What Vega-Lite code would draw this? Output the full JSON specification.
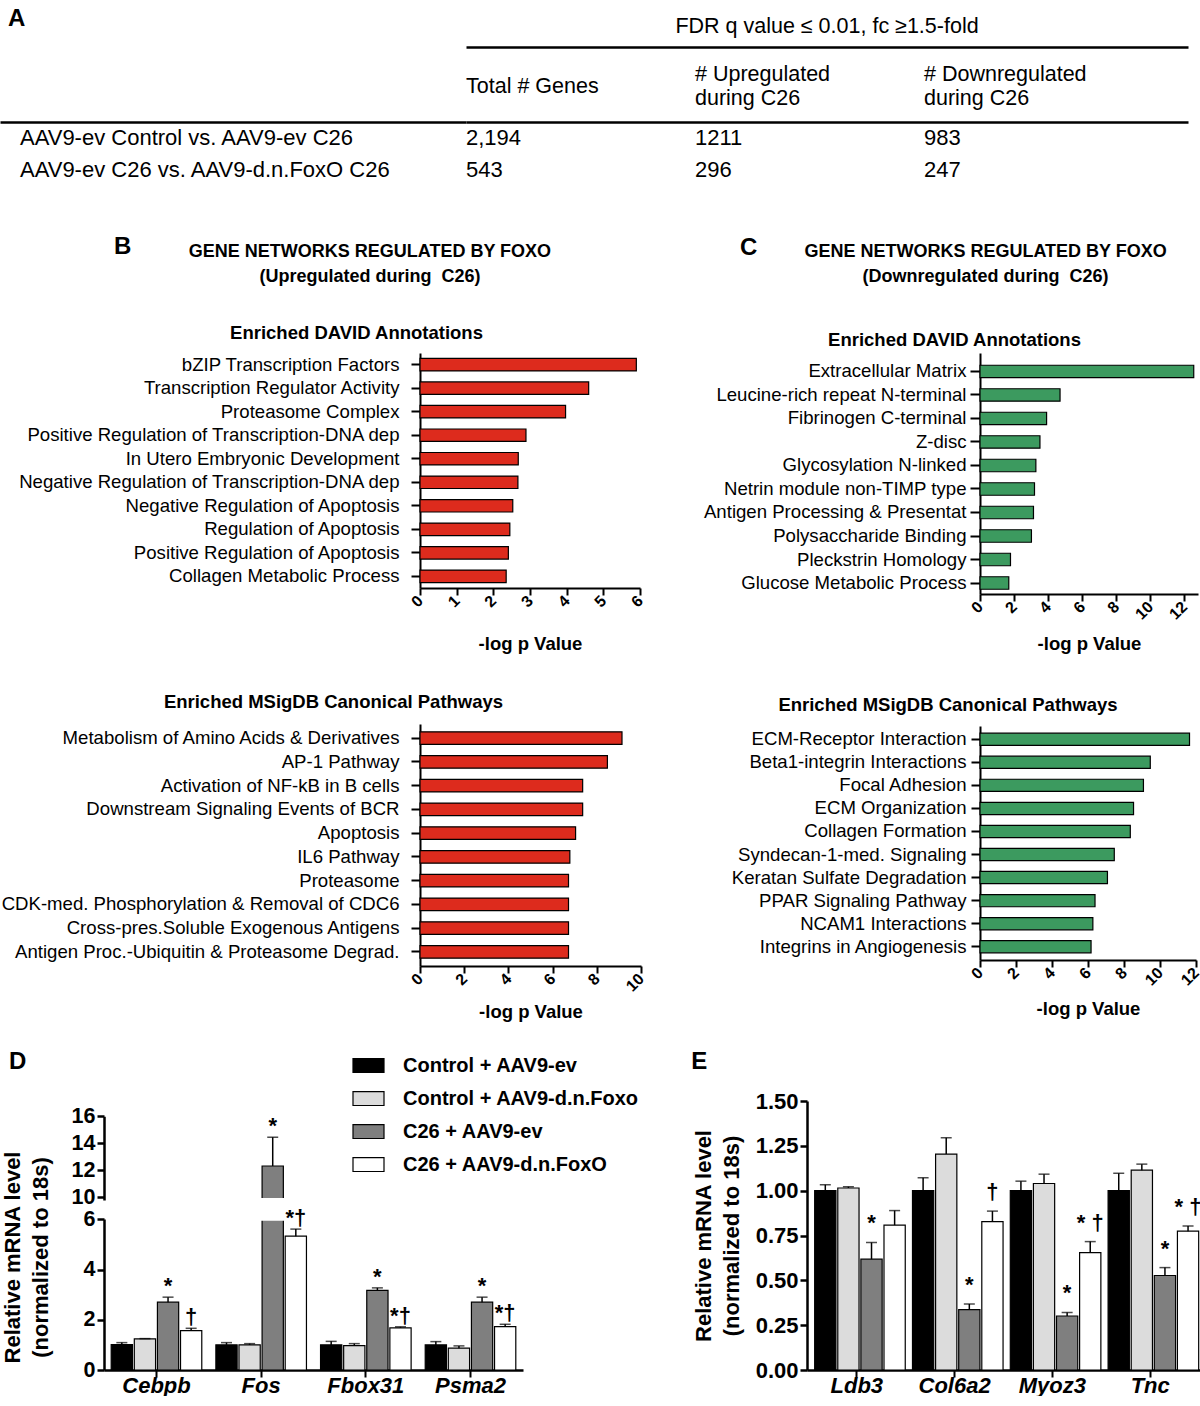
{
"$schema": "https://vega.github.io/schema/vega-lite/v6.json",
"background": "white",
"padding": {"left": 0, "top": 7, "right": 0, "bottom": 0},
"config": {
  "font": "Liberation Sans",
  "view": {"stroke": null},
  "axis": {"domainColor": "#000", "tickColor": "#000", "labelColor": "#000", "titleColor": "#000", "grid": false, "labelFont": "Liberation Sans", "titleFont": "Liberation Sans"},
  "title": {"color": "#000", "font": "Liberation Sans", "subtitleFont": "Liberation Sans"},
  "legend": {"labelColor": "#000", "labelFont": "Liberation Sans"},
  "text": {"font": "Liberation Sans", "color": "#000"}
},
"datasets": {
  "table": [
    {"comparison": "AAV9-ev Control vs. AAV9-ev C26", "total": "2,194", "up": "1211", "down": "983"},
    {"comparison": "AAV9-ev C26 vs. AAV9-d.n.FoxO C26", "total": "543", "up": "296", "down": "247"}
  ],
  "blank": [{"a": 0}]
},
"spacing": 35,
"columns": 1,
"concat": [
  {
    "hconcat": [
      {
        "width": 466, "height": 78,
        "title": {"text": "A", "anchor": "start", "frame": "group", "dx": 8, "offset": 72, "baseline": "alphabetic", "fontSize": 24, "fontWeight": "bold"},
        "data": {"name": "table"},
        "mark": {"type": "text", "align": "left", "baseline": "alphabetic", "fontSize": 22, "dx": 20},
        "encoding": {
          "x": {"datum": 0, "type": "quantitative", "scale": {"domain": [0, 1], "nice": false}, "axis": {"orient": "top", "labels": false, "ticks": false, "tickSize": 0, "title": null, "domainWidth": 2.5}},
          "y": {"field": "comparison", "type": "nominal", "sort": null, "scale": {"type": "point", "padding": 0.72, "domain": ["AAV9-ev Control vs. AAV9-ev C26", "AAV9-ev C26 vs. AAV9-d.n.FoxO C26"]}, "axis": null},
          "text": {"field": "comparison"}
        }
      },
      {
        "width": 722, "height": 78,
        "title": {"text": "FDR q value ≤ 0.01, fc ≥1.5-fold", "anchor": "middle", "frame": "group", "offset": -7, "baseline": "alphabetic", "fontSize": 21.5, "fontWeight": "normal"},
        "data": {"name": "table"},
        "transform": [{"fold": ["total", "up", "down"], "as": ["col", "txt"]}],
        "encoding": {
          "y": {"field": "comparison", "type": "nominal", "sort": null, "scale": {"type": "point", "padding": 0.72, "domain": ["AAV9-ev Control vs. AAV9-ev C26", "AAV9-ev C26 vs. AAV9-d.n.FoxO C26"]}, "axis": null},
          "text": {"field": "txt"}
        },
        "layer": [
          {
            "transform": [{"filter": "datum.comparison == 'AAV9-ev Control vs. AAV9-ev C26'"}],
            "mark": {"type": "text", "align": "left", "baseline": "alphabetic", "fontSize": 22},
            "encoding": {
              "x": {"field": "col", "type": "nominal", "bandPosition": 0, "scale": {"type": "band", "domain": ["total", "up", "down"], "paddingInner": 0, "paddingOuter": 0.0764, "align": 0},
                "axis": {"orient": "top", "title": null, "ticks": false, "tickSize": 0, "labelOffset": -114.5, "labelAlign": "left", "labelBaseline": "middle",
                  "labelPadding": {"condition": {"test": "datum.value == 'total'", "value": 36}, "value": 48},
                  "labelFontSize": 21.5, "labelLineHeight": 24, "labelAngle": 0, "labelOverlap": false, "labelLimit": 400, "domainWidth": 2.5,
                  "labelExpr": "datum.value == 'total' ? 'Total # Genes' : datum.value == 'up' ? ['# Upregulated', 'during C26'] : ['# Downregulated', 'during C26']"}}
            }
          },
          {
            "transform": [{"filter": "datum.comparison != 'AAV9-ev Control vs. AAV9-ev C26'"}],
            "mark": {"type": "text", "align": "left", "baseline": "alphabetic", "fontSize": 22},
            "encoding": {
              "x": {"field": "col", "type": "nominal", "bandPosition": 0, "scale": {"type": "band", "domain": ["total", "up", "down"], "paddingInner": 0, "paddingOuter": 0.0764, "align": 0},
                "axis": {"orient": "top", "offset": 75, "title": null, "labels": false, "ticks": false, "tickSize": 0, "domainWidth": 2.5}}
            }
          }
        ],
        "resolve": {"scale": {"x": "independent"}, "axis": {"x": "independent"}}
      }
    ],
    "spacing": 0,
    "bounds": "flush"
  },
  {
    "spacing": 28,
    "columns": 1,
    "concat": [
      {
        "spacing": 0,
        "hconcat": [
          {"width": 1, "height": 1, "data": {"name": "blank"}, "mark": {"type": "point", "opacity": 0, "size": 0}},
          {
            "spacing": 56,
            "hconcat": [
              {
                "title": {"text": ["GENE NETWORKS REGULATED BY FOXO", "(Upregulated during\u00a0\u00a0C26)"], "anchor": "middle", "frame": "bounds", "dx": 46, "dy": 65, "offset": 0, "baseline": "alphabetic", "lineHeight": 25, "fontSize": 18, "fontWeight": "bold"},
                "spacing": 38,
                "vconcat": [
                  {
                    "width": 220, "height": 235,
                    "title": {"text": "B", "anchor": "start", "frame": "group", "dx": -306, "offset": 45, "baseline": "alphabetic", "fontSize": 24, "fontWeight": "bold"},
                    "data": {"values": [
                      {"term": "bZIP Transcription Factors", "v": 5.90},
                      {"term": "Transcription Regulator Activity", "v": 4.60},
                      {"term": "Proteasome Complex", "v": 3.97},
                      {"term": "Positive Regulation of Transcription-DNA dep", "v": 2.89},
                      {"term": "In Utero Embryonic Development", "v": 2.68},
                      {"term": "Negative Regulation of Transcription-DNA dep", "v": 2.67},
                      {"term": "Negative Regulation of Apoptosis", "v": 2.53},
                      {"term": "Regulation of Apoptosis", "v": 2.45},
                      {"term": "Positive Regulation of Apoptosis", "v": 2.41},
                      {"term": "Collagen Metabolic Process", "v": 2.35}
                    ]},
                    "mark": {"type": "bar", "fill": "#dd2b1d", "stroke": "#000", "strokeWidth": 1.2},
                    "encoding": {
                      "y": {"field": "term", "type": "nominal", "sort": null, "scale": {"paddingInner": 0.47, "paddingOuter": 0.23},
                        "axis": {"title": "Enriched DAVID Annotations", "titleX": -64, "titleY": -15, "titleAngle": 0, "titleAlign": "center", "titleBaseline": "alphabetic", "titleFontSize": 18.5, "titleFontWeight": "bold", "labelFontSize": 18.6, "labelPadding": 12, "tickSize": 9, "tickWidth": 2, "domainWidth": 2, "labelLimit": 600}},
                      "x": {"field": "v", "type": "quantitative", "scale": {"domain": [0, 6], "nice": false},
                        "axis": {"title": "-log p Value", "values": [0, 1, 2, 3, 4, 5, 6], "titlePadding": 25, "titleFontSize": 18.5, "titleFontWeight": "bold", "labelAngle": -45, "labelAlign": "right", "labelBaseline": "middle", "labelFontSize": 16, "labelFontWeight": "bold", "labelPadding": 3, "tickSize": 7, "tickWidth": 2, "domainWidth": 2, "labelFlush": false, "labelOverlap": false}}
                    }
                  },
                  {
                    "width": 221, "height": 242,
                    "title": {"text": "Enriched MSigDB Canonical Pathways", "anchor": "middle", "frame": "group", "dx": -197, "offset": -2, "baseline": "alphabetic", "fontSize": 18.5, "fontWeight": "bold"},
                    "data": {"values": [
                      {"term": "Metabolism of Amino Acids & Derivatives", "v": 9.14},
                      {"term": "AP-1 Pathway", "v": 8.48},
                      {"term": "Activation of NF-kB in B cells", "v": 7.36},
                      {"term": "Downstream Signaling Events of BCR", "v": 7.36},
                      {"term": "Apoptosis", "v": 7.04},
                      {"term": "IL6 Pathway", "v": 6.78},
                      {"term": "Proteasome", "v": 6.72},
                      {"term": "CDK-med. Phosphorylation & Removal of CDC6", "v": 6.72},
                      {"term": "Cross-pres.Soluble Exogenous Antigens", "v": 6.72},
                      {"term": "Antigen Proc.-Ubiquitin & Proteasome Degrad.", "v": 6.72}
                    ]},
                    "mark": {"type": "bar", "fill": "#dd2b1d", "stroke": "#000", "strokeWidth": 1.2},
                    "encoding": {
                      "y": {"field": "term", "type": "nominal", "sort": null, "scale": {"paddingInner": 0.47, "paddingOuter": 0.33},
                        "axis": {"title": null, "labelFontSize": 18.6, "labelPadding": 12, "tickSize": 9, "tickWidth": 2, "domainWidth": 2, "labelLimit": 600}},
                      "x": {"field": "v", "type": "quantitative", "scale": {"domain": [0, 10], "nice": false},
                        "axis": {"title": "-log p Value", "values": [0, 2, 4, 6, 8, 10], "titlePadding": 8, "titleFontSize": 18.5, "titleFontWeight": "bold", "labelAngle": -45, "labelAlign": "right", "labelBaseline": "middle", "labelFontSize": 16, "labelFontWeight": "bold", "labelPadding": 3, "tickSize": 7, "tickWidth": 2, "domainWidth": 2, "labelFlush": false, "labelOverlap": false}}
                    }
                  }
                ]
              },
              {
                "title": {"text": ["GENE NETWORKS REGULATED BY FOXO", "(Downregulated during\u00a0\u00a0C26)"], "anchor": "middle", "frame": "bounds", "dx": 33, "dy": 64, "offset": 0, "baseline": "alphabetic", "lineHeight": 25, "fontSize": 18, "fontWeight": "bold"},
                "spacing": 42,
                "vconcat": [
                  {
                    "width": 218, "height": 241,
                    "title": {"text": "C", "anchor": "start", "frame": "group", "dx": -240, "offset": 52, "baseline": "alphabetic", "fontSize": 24, "fontWeight": "bold"},
                    "data": {"values": [
                      {"term": "Extracellular Matrix", "v": 12.55},
                      {"term": "Leucine-rich repeat N-terminal", "v": 4.70},
                      {"term": "Fibrinogen C-terminal", "v": 3.91},
                      {"term": "Z-disc", "v": 3.52},
                      {"term": "Glycosylation N-linked", "v": 3.28},
                      {"term": "Netrin module non-TIMP type", "v": 3.20},
                      {"term": "Antigen Processing & Presentat", "v": 3.14},
                      {"term": "Polysaccharide Binding", "v": 3.02},
                      {"term": "Pleckstrin Homology", "v": 1.79},
                      {"term": "Glucose Metabolic Process", "v": 1.69}
                    ]},
                    "mark": {"type": "bar", "fill": "#3c9a5f", "stroke": "#000", "strokeWidth": 1.2},
                    "encoding": {
                      "y": {"field": "term", "type": "nominal", "sort": null, "scale": {"paddingInner": 0.47, "paddingOuter": 0.3625, "align": 0.72},
                        "axis": {"title": "Enriched DAVID Annotations", "titleX": -26, "titleY": -7.5, "titleAngle": 0, "titleAlign": "center", "titleBaseline": "alphabetic", "titleFontSize": 18.5, "titleFontWeight": "bold", "labelFontSize": 18.6, "labelPadding": 4, "tickSize": 10, "tickWidth": 2, "domainWidth": 2, "labelLimit": 600}},
                      "x": {"field": "v", "type": "quantitative", "scale": {"domain": [0, 12.8], "nice": false},
                        "axis": {"title": "-log p Value", "values": [0, 2, 4, 6, 8, 10, 12], "titlePadding": 12, "titleFontSize": 18.5, "titleFontWeight": "bold", "labelAngle": -45, "labelAlign": "right", "labelBaseline": "middle", "labelFontSize": 16, "labelFontWeight": "bold", "labelPadding": 3, "tickSize": 7, "tickWidth": 2, "domainWidth": 2, "labelFlush": false, "labelOverlap": false}}
                    }
                  },
                  {
                    "width": 216, "height": 234,
                    "title": {"text": "Enriched MSigDB Canonical Pathways", "anchor": "middle", "frame": "group", "dx": -140, "offset": -3, "baseline": "alphabetic", "fontSize": 18.5, "fontWeight": "bold"},
                    "data": {"values": [
                      {"term": "ECM-Receptor Interaction", "v": 11.64},
                      {"term": "Beta1-integrin Interactions", "v": 9.46},
                      {"term": "Focal Adhesion", "v": 9.08},
                      {"term": "ECM Organization", "v": 8.53},
                      {"term": "Collagen Formation", "v": 8.35},
                      {"term": "Syndecan-1-med. Signaling ", "v": 7.46},
                      {"term": "Keratan Sulfate Degradation", "v": 7.08},
                      {"term": "PPAR Signaling Pathway", "v": 6.39},
                      {"term": "NCAM1 Interactions", "v": 6.27},
                      {"term": "Integrins in Angiogenesis", "v": 6.17}
                    ]},
                    "mark": {"type": "bar", "fill": "#3c9a5f", "stroke": "#000", "strokeWidth": 1.2},
                    "encoding": {
                      "y": {"field": "term", "type": "nominal", "sort": null, "scale": {"paddingInner": 0.47, "paddingOuter": 0.31},
                        "axis": {"title": null, "labelFontSize": 18.6, "labelPadding": 5, "tickSize": 9, "tickWidth": 2, "domainWidth": 2, "labelLimit": 600}},
                      "x": {"field": "v", "type": "quantitative", "scale": {"domain": [0, 12], "nice": false},
                        "axis": {"title": "-log p Value", "values": [0, 2, 4, 6, 8, 10, 12], "titlePadding": 11, "titleFontSize": 18.5, "titleFontWeight": "bold", "labelAngle": -45, "labelAlign": "right", "labelBaseline": "middle", "labelFontSize": 16, "labelFontWeight": "bold", "labelPadding": 3, "tickSize": 7, "tickWidth": 2, "domainWidth": 2, "labelFlush": false, "labelOverlap": false}}
                    }
                  }
                ]
              }
            ]
          }
        ]
      },
      {
        "spacing": 0,
        "hconcat": [
          {"width": 1, "height": 1, "data": {"name": "blank"}, "mark": {"type": "point", "opacity": 0, "size": 0}},
          {
            "spacing": 52,
            "resolve": {"scale": {"fill": "independent"}, "legend": {"fill": "independent"}},
            "hconcat": [
              {
                "width": 419, "height": 269,
                "title": {"text": "D", "anchor": "start", "frame": "bounds", "dx": 8, "offset": -44, "baseline": "alphabetic", "fontSize": 24, "fontWeight": "bold"},
                "data": {"values": [
                  {"gene": "Cebpb", "cond": "Control + AAV9-ev", "v": 1.01, "err": 1.09, "sig": ""},
                  {"gene": "Cebpb", "cond": "Control + AAV9-d.n.Foxo", "v": 1.24, "err": 1.25, "sig": ""},
                  {"gene": "Cebpb", "cond": "C26 + AAV9-ev", "v": 2.70, "err": 2.90, "sig": "*"},
                  {"gene": "Cebpb", "cond": "C26 + AAV9-d.n.FoxO", "v": 1.57, "err": 1.66, "sig": "†"},
                  {"gene": "Fos", "cond": "Control + AAV9-ev", "v": 1.00, "err": 1.09, "sig": ""},
                  {"gene": "Fos", "cond": "Control + AAV9-d.n.Foxo", "v": 1.00, "err": 1.05, "sig": ""},
                  {"gene": "Fos", "cond": "C26 + AAV9-ev", "v": 12.32, "err": 14.45, "sig": "*"},
                  {"gene": "Fos", "cond": "C26 + AAV9-d.n.FoxO", "v": 5.33, "err": 5.61, "sig": "*†"},
                  {"gene": "Fbox31", "cond": "Control + AAV9-ev", "v": 1.00, "err": 1.14, "sig": ""},
                  {"gene": "Fbox31", "cond": "Control + AAV9-d.n.Foxo", "v": 0.97, "err": 1.05, "sig": ""},
                  {"gene": "Fbox31", "cond": "C26 + AAV9-ev", "v": 3.17, "err": 3.27, "sig": "*"},
                  {"gene": "Fbox31", "cond": "C26 + AAV9-d.n.FoxO", "v": 1.68, "err": 1.72, "sig": "*†"},
                  {"gene": "Psma2", "cond": "Control + AAV9-ev", "v": 1.00, "err": 1.13, "sig": ""},
                  {"gene": "Psma2", "cond": "Control + AAV9-d.n.Foxo", "v": 0.87, "err": 0.96, "sig": ""},
                  {"gene": "Psma2", "cond": "C26 + AAV9-ev", "v": 2.70, "err": 2.90, "sig": "*"},
                  {"gene": "Psma2", "cond": "C26 + AAV9-d.n.FoxO", "v": 1.73, "err": 1.82, "sig": "*†"}
                ]},
                "encoding": {
                  "x": {"field": "gene", "type": "nominal", "sort": ["Cebpb", "Fos", "Fbox31", "Psma2"], "scale": {"paddingInner": 0.117, "paddingOuter": 0.06},
                    "axis": {"title": null, "labelAngle": 0, "labelFontSize": 22, "labelFontWeight": "bold", "labelFontStyle": "italic", "tickSize": 7, "tickWidth": 2, "domainWidth": 2.5, "labelPadding": -2}},
                  "xOffset": {"field": "cond", "type": "nominal", "sort": ["Control + AAV9-ev", "Control + AAV9-d.n.Foxo", "C26 + AAV9-ev", "C26 + AAV9-d.n.FoxO"], "scale": {"paddingInner": 0.08, "paddingOuter": 0.04}}
                },
                "layer": [
                  {
                    "mark": {"type": "bar", "stroke": "#000", "strokeWidth": 1.2},
                    "encoding": {
                      "y": {"field": "v", "type": "quantitative", "scale": {"domain": [0, 6, 10, 16], "range": [269, 118.3, 96.3, 15.3], "nice": false, "zero": false},
                        "axis": {"values": [0, 2, 4, 6, 10, 12, 14, 16], "tickCount": 20, "title": ["Relative mRNA level", "(normalized to 18s)"], "titleFontSize": 22, "titleFontWeight": "bold", "titleLineHeight": 28, "titlePadding": 19, "titleY": 156, "labelFontSize": 21.5, "labelFontWeight": "bold", "labelPadding": 2, "labelSeparation": -10, "tickSize": 7, "tickWidth": 2.5, "domainWidth": 2.5, "domainDash": [151, 19, 120], "labelFlush": false, "labelOverlap": false}},
                      "fill": {"field": "cond", "type": "nominal", "scale": {"domain": ["Control + AAV9-ev", "Control + AAV9-d.n.Foxo", "C26 + AAV9-ev", "C26 + AAV9-d.n.FoxO"], "range": ["#000000", "#dcdcdc", "#7f7f7f", "#ffffff"]},
                        "legend": {"orient": "none", "legendX": 248, "legendY": -52, "title": null, "direction": "vertical", "symbolType": "M-1,-0.45H1V0.45H-1Z", "symbolSize": 961, "symbolStrokeColor": "#000", "symbolStrokeWidth": 1.2, "symbolOpacity": 1, "labelFontSize": 20, "labelFontWeight": "bold", "labelOffset": 18, "rowPadding": 6, "padding": 0, "labelLimit": 400}}
                    }
                  },
                  {
                    "data": {"values": [{"gene": "Fos", "cond": "C26 + AAV9-ev", "lo": 6.03, "hi": 9.6}]},
                    "mark": {"type": "bar", "fill": "#ffffff", "stroke": "#ffffff", "strokeWidth": 3},
                    "encoding": {
                      "y": {"field": "lo", "type": "quantitative", "scale": {"domain": [0, 6, 10, 16], "range": [269, 118.3, 96.3, 15.3], "nice": false, "zero": false}},
                      "y2": {"field": "hi"}
                    }
                  },
                  {
                    "mark": {"type": "rule", "color": "#000", "strokeWidth": 1.5},
                    "encoding": {
                      "y": {"field": "v", "type": "quantitative", "scale": {"domain": [0, 6, 10, 16], "range": [269, 118.3, 96.3, 15.3], "nice": false, "zero": false}},
                      "y2": {"field": "err"}
                    }
                  },
                  {
                    "mark": {"type": "tick", "color": "#000", "thickness": 1.5, "size": 11},
                    "encoding": {
                      "y": {"field": "err", "type": "quantitative", "scale": {"domain": [0, 6, 10, 16], "range": [269, 118.3, 96.3, 15.3], "nice": false, "zero": false}}
                    }
                  },
                  {
                    "transform": [{"filter": "datum.sig != ''"}],
                    "mark": {"type": "text", "baseline": "alphabetic", "fontSize": 22, "fontWeight": "bold", "dy": -4},
                    "encoding": {
                      "y": {"field": "err", "type": "quantitative", "scale": {"domain": [0, 6, 10, 16], "range": [269, 118.3, 96.3, 15.3], "nice": false, "zero": false}},
                      "text": {"field": "sig"}
                    }
                  }
                ]
              },
              {
                "width": 393, "height": 269,
                "title": {"text": "E", "anchor": "start", "frame": "bounds", "dx": -1, "offset": -3, "baseline": "alphabetic", "fontSize": 24, "fontWeight": "bold"},
                "data": {"values": [
                  {"gene": "Ldb3", "cond": "Control + AAV9-ev", "v": 1.00, "err": 1.033, "sig": ""},
                  {"gene": "Ldb3", "cond": "Control + AAV9-d.n.Foxo", "v": 1.015, "err": 1.022, "sig": ""},
                  {"gene": "Ldb3", "cond": "C26 + AAV9-ev", "v": 0.618, "err": 0.711, "sig": "*"},
                  {"gene": "Ldb3", "cond": "C26 + AAV9-d.n.FoxO", "v": 0.808, "err": 0.889, "sig": ""},
                  {"gene": "Col6a2", "cond": "Control + AAV9-ev", "v": 1.00, "err": 1.072, "sig": ""},
                  {"gene": "Col6a2", "cond": "Control + AAV9-d.n.Foxo", "v": 1.204, "err": 1.295, "sig": ""},
                  {"gene": "Col6a2", "cond": "C26 + AAV9-ev", "v": 0.337, "err": 0.368, "sig": "*"},
                  {"gene": "Col6a2", "cond": "C26 + AAV9-d.n.FoxO", "v": 0.827, "err": 0.886, "sig": "†"},
                  {"gene": "Myoz3", "cond": "Control + AAV9-ev", "v": 1.00, "err": 1.053, "sig": ""},
                  {"gene": "Myoz3", "cond": "Control + AAV9-d.n.Foxo", "v": 1.040, "err": 1.092, "sig": ""},
                  {"gene": "Myoz3", "cond": "C26 + AAV9-ev", "v": 0.301, "err": 0.321, "sig": "*"},
                  {"gene": "Myoz3", "cond": "C26 + AAV9-d.n.FoxO", "v": 0.655, "err": 0.716, "sig": "* †"},
                  {"gene": "Tnc", "cond": "Control + AAV9-ev", "v": 1.00, "err": 1.097, "sig": ""},
                  {"gene": "Tnc", "cond": "Control + AAV9-d.n.Foxo", "v": 1.114, "err": 1.148, "sig": ""},
                  {"gene": "Tnc", "cond": "C26 + AAV9-ev", "v": 0.527, "err": 0.571, "sig": "*"},
                  {"gene": "Tnc", "cond": "C26 + AAV9-d.n.FoxO", "v": 0.774, "err": 0.803, "sig": "* †"}
                ]},
                "encoding": {
                  "x": {"field": "gene", "type": "nominal", "sort": ["Ldb3", "Col6a2", "Myoz3", "Tnc"], "scale": {"paddingInner": 0.12, "paddingOuter": 0.069},
                    "axis": {"title": null, "labelAngle": 0, "labelFontSize": 22, "labelFontWeight": "bold", "labelFontStyle": "italic", "tickSize": 7, "tickWidth": 2, "domainWidth": 2.5, "labelPadding": -2}},
                  "xOffset": {"field": "cond", "type": "nominal", "sort": ["Control + AAV9-ev", "Control + AAV9-d.n.Foxo", "C26 + AAV9-ev", "C26 + AAV9-d.n.FoxO"], "scale": {"paddingInner": 0.11, "paddingOuter": 0.05}}
                },
                "layer": [
                  {
                    "mark": {"type": "bar", "stroke": "#000", "strokeWidth": 1.2},
                    "encoding": {
                      "y": {"field": "v", "type": "quantitative", "scale": {"domain": [0, 1.5], "nice": false},
                        "axis": {"values": [0, 0.25, 0.5, 0.75, 1, 1.25, 1.5], "tickCount": 20, "format": ".2f", "title": ["Relative mRNA level", "(normalized to 18s)"], "titleFontSize": 22, "titleFontWeight": "bold", "titleLineHeight": 28, "titlePadding": 12, "labelFontSize": 22, "labelFontWeight": "bold", "labelPadding": 2, "tickSize": 7, "tickWidth": 2.5, "domainWidth": 2.5, "labelFlush": false, "labelOverlap": false}},
                      "fill": {"field": "cond", "type": "nominal", "scale": {"domain": ["Control + AAV9-ev", "Control + AAV9-d.n.Foxo", "C26 + AAV9-ev", "C26 + AAV9-d.n.FoxO"], "range": ["#000000", "#dcdcdc", "#7f7f7f", "#ffffff"]}, "legend": null}
                    }
                  },
                  {
                    "mark": {"type": "rule", "color": "#000", "strokeWidth": 1.5},
                    "encoding": {
                      "y": {"field": "v", "type": "quantitative", "scale": {"domain": [0, 1.5], "nice": false}},
                      "y2": {"field": "err"}
                    }
                  },
                  {
                    "mark": {"type": "tick", "color": "#000", "thickness": 1.5, "size": 11},
                    "encoding": {
                      "y": {"field": "err", "type": "quantitative", "scale": {"domain": [0, 1.5], "nice": false}}
                    }
                  },
                  {
                    "transform": [{"filter": "datum.sig != ''"}],
                    "mark": {"type": "text", "baseline": "alphabetic", "fontSize": 22, "fontWeight": "bold", "dy": -12},
                    "encoding": {
                      "y": {"field": "err", "type": "quantitative", "scale": {"domain": [0, 1.5], "nice": false}},
                      "text": {"field": "sig"}
                    }
                  }
                ]
              }
            ]
          }
        ]
      }
    ]
  }
]
}
